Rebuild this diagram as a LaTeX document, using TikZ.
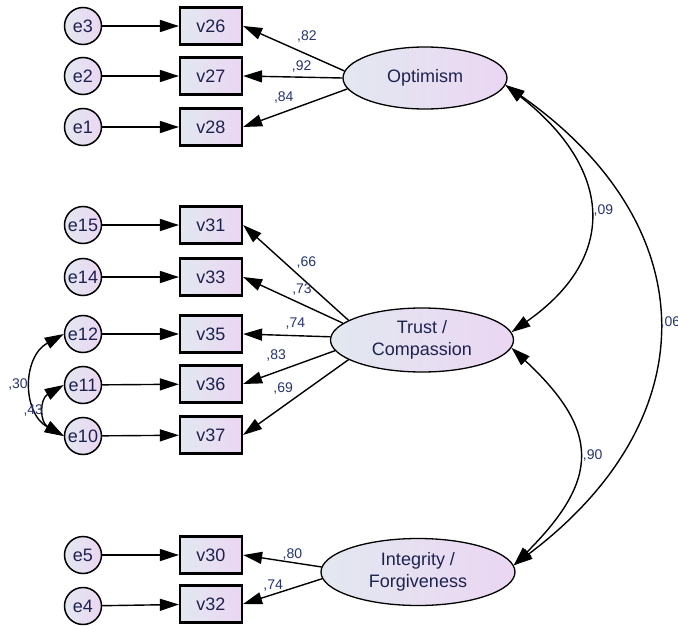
\documentclass[tikz,border=0pt]{standalone}
\usepackage{fontspec}
\setmainfont{Liberation Sans}
\usetikzlibrary{shapes.geometric, arrows.meta}
\definecolor{semleft}{RGB}{226,232,240}
\definecolor{semright}{RGB}{235,214,243}
\definecolor{semtext}{RGB}{30,34,78}
\definecolor{semlbl}{RGB}{38,52,112}

\begin{document}
\begin{tikzpicture}[x=1pt, y=1pt,
  err/.style={circle, draw=black, line width=1.5pt, left color=semleft,
              right color=semright, minimum size=37pt, inner sep=0pt,
              text=semtext, font=\fontsize{18}{22}\selectfont},
  obs/.style={rectangle, draw=black, line width=2.2pt, left color=semleft,
              right color=semright, minimum width=62pt, minimum height=37pt,
              inner sep=0pt, text=semtext, font=\fontsize{18}{22}\selectfont},
  lat/.style={ellipse, draw=black, line width=1.3pt, left color=semleft,
              right color=semright, inner sep=0pt, align=center,
              text=semtext, font=\fontsize{18}{22}\selectfont},
  arr/.style={-{Triangle[length=19pt, width=12pt]}, line width=1.4pt},
  cov/.style={{Triangle[length=19pt, width=12pt]}-{Triangle[length=19pt, width=12pt]},
              line width=1.4pt},
  lbl/.style={font=\fontsize{14}{16}\selectfont, text=semlbl, inner sep=1pt},
]
\useasboundingbox (0,0) rectangle (678,-626);

% --- Optimism block ---
\node[err] (e3) at (83,-26) {e3};
\node[err] (e2) at (83,-76) {e2};
\node[err] (e1) at (83,-127) {e1};
\node[obs] (v26) at (211,-26) {v26};
\node[obs] (v27) at (211,-76) {v27};
\node[obs] (v28) at (211,-127) {v28};
\node[lat, minimum width=164pt, minimum height=62pt] (opt) at (425,-78) {Optimism};

\draw[arr] (e3) -- (v26);
\draw[arr] (e2) -- (v27);
\draw[arr] (e1) -- (v28);
\draw[arr] (opt.175) -- node[lbl, pos=.37, above=10pt] {,82} (v26.east);
\draw[arr] (opt.180) -- node[lbl, pos=.41, above=3pt] {,92} (v27.east);
\draw[arr] (opt.188) -- node[lbl, pos=.61, above=7pt] {,84} (v28.east);

% --- Trust / Compassion block ---
\node[err] (e15) at (83,-225) {e15};
\node[err] (e14) at (83,-277) {e14};
\node[err] (e12) at (83,-334) {e12};
\node[err] (e11) at (83,-385) {e11};
\node[err] (e10) at (83,-436) {e10};
\node[obs] (v31) at (211,-225) {v31};
\node[obs] (v33) at (211,-277) {v33};
\node[obs] (v35) at (211,-334) {v35};
\node[obs] (v36) at (211,-384) {v36};
\node[obs] (v37) at (211,-435) {v37};
\node[lat, minimum width=183pt, minimum height=64pt] (trust) at (422,-340)
  {Trust /\\Compassion};

\draw[arr] (e15) -- (v31);
\draw[arr] (e14) -- (v33);
\draw[arr] (e12) -- (v35);
\draw[arr] (e11) -- (v36);
\draw[arr] (e10) -- (v37);
\draw[arr] (trust.165) -- node[lbl, pos=.40, above=12pt] {,66} (v31.east);
\draw[arr] (trust.168) -- node[lbl, pos=.41, above=7pt] {,73} (v33.east);
\draw[arr] (trust.178) -- node[lbl, pos=.40, above=5pt] {,74} (v35.east);
\draw[arr] (trust.187) -- node[lbl, pos=.64, above=9pt] {,83} (v36.east);
\draw[arr] (trust.195) -- node[lbl, pos=.62, above=10pt] {,69} (v37.east);

\draw[cov] (e12.west) to[out=209, in=151, looseness=1.2]
  node[lbl, pos=.5, left=3pt] {,30} (e10.west);
\draw[cov] (e11.west) to[out=210, in=150, looseness=1.4]
  node[lbl, pos=.5, left=1pt] {,43} (e10.west);

% --- Integrity / Forgiveness block ---
\node[err] (e5) at (83,-555) {e5};
\node[err] (e4) at (83,-606) {e4};
\node[obs] (v30) at (211,-555) {v30};
\node[obs] (v32) at (211,-604) {v32};
\node[lat, minimum width=194pt, minimum height=67pt] (integ) at (418,-572)
  {Integrity /\\Forgiveness};

\draw[arr] (e5) -- (v30);
\draw[arr] (e4) -- (v32);
\draw[arr] (integ.177) -- node[lbl, pos=.37, above=1pt] {,80} (v30.east);
\draw[arr] (integ.184) -- node[lbl, pos=.62, above=1pt] {,74} (v32.east);

% --- factor covariances ---
\draw[cov] (opt.-5) to[out=-38, in=35, looseness=1.38]
  node[lbl, pos=.5, right=3pt] {,09} (trust.5);
\draw[cov] (opt.-5) to[out=-35, in=37, looseness=1.3]
  node[lbl, pos=.5, right=1pt] {,06} (integ.4);
\draw[cov] (trust.-5) to[out=-43, in=45, looseness=1.43]
  node[lbl, pos=.5, right=3pt] {,90} (integ.4);
\end{tikzpicture}
\end{document}
